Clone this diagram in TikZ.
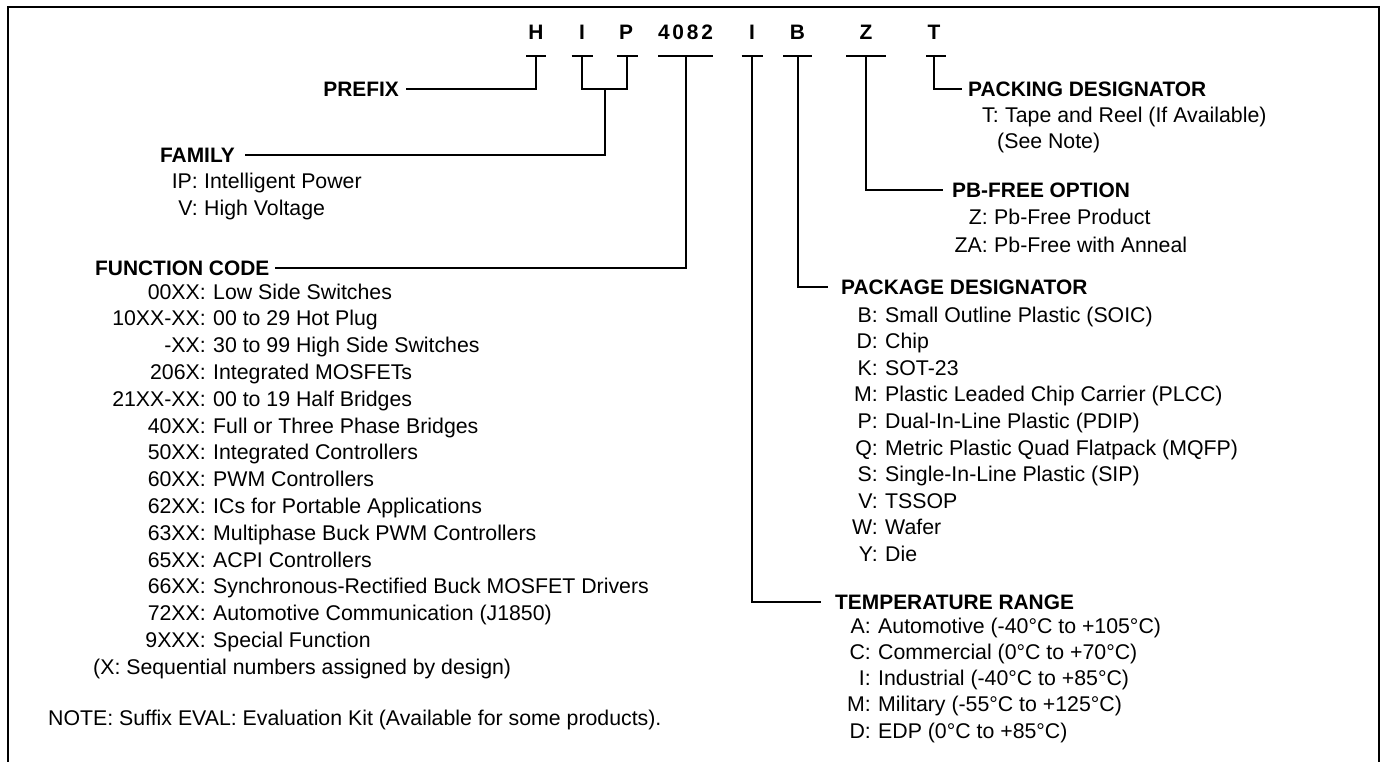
\documentclass[tikz,border=0pt]{standalone}
\usepackage{fontspec}
\setmainfont{Liberation Sans}
\begin{document}
\begin{tikzpicture}[x=1pt,y=-1pt,
  wire/.style={line width=2pt},
  frame/.style={line width=2.4pt},
  lbl/.style={inner sep=0pt,font=\fontsize{20.9}{25}\selectfont\bfseries},
  txt/.style={inner sep=0pt,font=\fontsize{21.3}{25}\selectfont},
  ttl/.style={inner sep=0pt,anchor=base,font=\fontsize{20.9}{25}\selectfont\bfseries},
  code/.style={txt,anchor=base east},
  desc/.style={txt,anchor=base west}]
\useasboundingbox (0,0) rectangle (1384,762);
\draw[frame] (8,762) -- (8,7) -- (1379,7) -- (1379,762);

% title letters
\node[ttl] (tH) at (536,40) {H};
\node[ttl] (tI) at (582,40) {I};
\node[ttl] (tP) at (626,40) {P};
\node[ttl] (tN) at (685.5,40) {4\kern2.8pt0\kern2.8pt8\kern2.8pt2};
\node[ttl] (tI2) at (752,40) {I};
\node[ttl] (tB) at (797.5,40) {B};
\node[ttl] (tZ) at (866,40) {Z};
\node[ttl] (tT) at (934,40) {T};

% bar centres
\coordinate (bH) at (536,56);
\coordinate (bI) at (582,56);
\coordinate (bP) at (627,56);
\coordinate (bN) at (685.5,56);
\coordinate (bI2) at (752,56);
\coordinate (bB) at (797.5,56);
\coordinate (bZ) at (866,56);
\coordinate (bT) at (934,56);
\draw[wire] ([xshift=-10pt]bH) -- ([xshift=10pt]bH);
\draw[wire] ([xshift=-10.5pt]bI) -- ([xshift=10.5pt]bI);
\draw[wire] ([xshift=-10.5pt]bP) -- ([xshift=10.5pt]bP);
\draw[wire] ([xshift=-27.5pt]bN) -- ([xshift=27.5pt]bN);
\draw[wire] ([xshift=-10.5pt]bI2) -- ([xshift=10.5pt]bI2);
\draw[wire] ([xshift=-14.5pt]bB) -- ([xshift=14.5pt]bB);
\draw[wire] ([xshift=-20pt]bZ) -- ([xshift=20pt]bZ);
\draw[wire] ([xshift=-8pt]bT) -- ([xshift=12pt]bT);

% labels
\node[lbl,anchor=base east] (prefix) at (399,96.5) {PREFIX};
\node[lbl,anchor=base east] (family) at (235,162.5) {FAMILY};
\node[lbl,anchor=base west] (func) at (95,275) {FUNCTION CODE};
\node[lbl,anchor=base west] (pack) at (968,96.5) {PACKING DESIGNATOR};
\node[lbl,anchor=base west] (pbfree) at (952,197.5) {PB-FREE OPTION};
\node[lbl,anchor=base west] (pkg) at (841,294.5) {PACKAGE DESIGNATOR};
\node[lbl,anchor=base west] (temp) at (835,609) {TEMPERATURE RANGE};

% connectors
\draw[wire] (bH) |- ([shift={(7pt,7.5pt)}]prefix.base east);
\coordinate (jI) at (582,89);
\coordinate (jP) at (627,89);
\coordinate (jIP) at (604.5,89);
\draw[wire] (bI) -- (jI) -- (jP) -- (bP);
\draw[wire] (jIP) |- ([shift={(10pt,7.5pt)}]family.base east);
\draw[wire] (bN) |- ([shift={(5pt,7.5pt)}]func.base east);
\draw[wire] (bT) |- ([shift={(-6pt,7.5pt)}]pack.base west);
\draw[wire] (bZ) |- ([shift={(-9pt,7.5pt)}]pbfree.base west);
\draw[wire] (bB) |- ([shift={(-13pt,7.5pt)}]pkg.base west);
\draw[wire] (bI2) |- ([shift={(-14pt,7.5pt)}]temp.base west);

% family items
\node[code] (fa1) at (198,189) {IP:};
\node[desc] (fa1d) at (204,189) {Intelligent Power};
\node[code] (fa2) at (198,215) {V:};
\node[desc] (fa2d) at (204,215) {High Voltage};

% function code items
\foreach \c/\d [count=\k from 0] in {00XX/Low Side Switches, 10XX-XX/00 to 29 Hot Plug, -XX/30 to 99 High Side Switches, 206X/Integrated MOSFETs, 21XX-XX/00 to 19 Half Bridges, 40XX/Full or Three Phase Bridges, 50XX/Integrated Controllers, 60XX/PWM Controllers, 62XX/ICs for Portable Applications, 63XX/Multiphase Buck PWM Controllers, 65XX/ACPI Controllers, 66XX/Synchronous-Rectified Buck MOSFET Drivers, 72XX/Automotive Communication (J1850), 9XXX/Special Function}
{\node[code] (fc\k) at (206,{299+26.8*\k}) {\c:};
 \node[desc] (fd\k) at (213,{299+26.8*\k}) {\d};}
\node[desc] (xnote) at (93,674.5) {(X: Sequential numbers assigned by design)};
\node[desc] (note) at (48,725) {NOTE: Suffix EVAL: Evaluation Kit (Available for some products).};

% packing items
\node[code] (pk1) at (999,123) {T:};
\node[desc] (pk1d) at (1005,123) {Tape and Reel (If Available)};
\node[desc] (pk2d) at (997,149) {(See Note)};

% pb-free items
\node[code] (pb1) at (988,225) {Z:};
\node[desc] (pb1d) at (994,225) {Pb-Free Product};
\node[code] (pb2) at (988,252) {ZA:};
\node[desc] (pb2d) at (994,252) {Pb-Free with Anneal};

% package items
\foreach \c/\d [count=\k from 0] in {B/Small Outline Plastic (SOIC), D/Chip, K/SOT-23, M/Plastic Leaded Chip Carrier (PLCC), P/Dual-In-Line Plastic (PDIP), Q/Metric Plastic Quad Flatpack (MQFP), S/Single-In-Line Plastic (SIP), V/TSSOP, W/Wafer, Y/Die}
{\node[code] (pc\k) at (878,{322+26.6*\k}) {\c:};
 \node[desc] (pd\k) at (885,{322+26.6*\k}) {\d};}

% temperature items
\foreach \c/\d [count=\k from 0] in {A/Automotive (-40°C to +105°C), C/Commercial (0°C to +70°C), I/Industrial (-40°C to +85°C), M/Military (-55°C to +125°C), D/EDP (0°C to +85°C)}
{\node[code] (tc\k) at (871,{633+26.3*\k}) {\c:};
 \node[desc] (td\k) at (878,{633+26.3*\k}) {\d};}
\end{tikzpicture}
\end{document}
